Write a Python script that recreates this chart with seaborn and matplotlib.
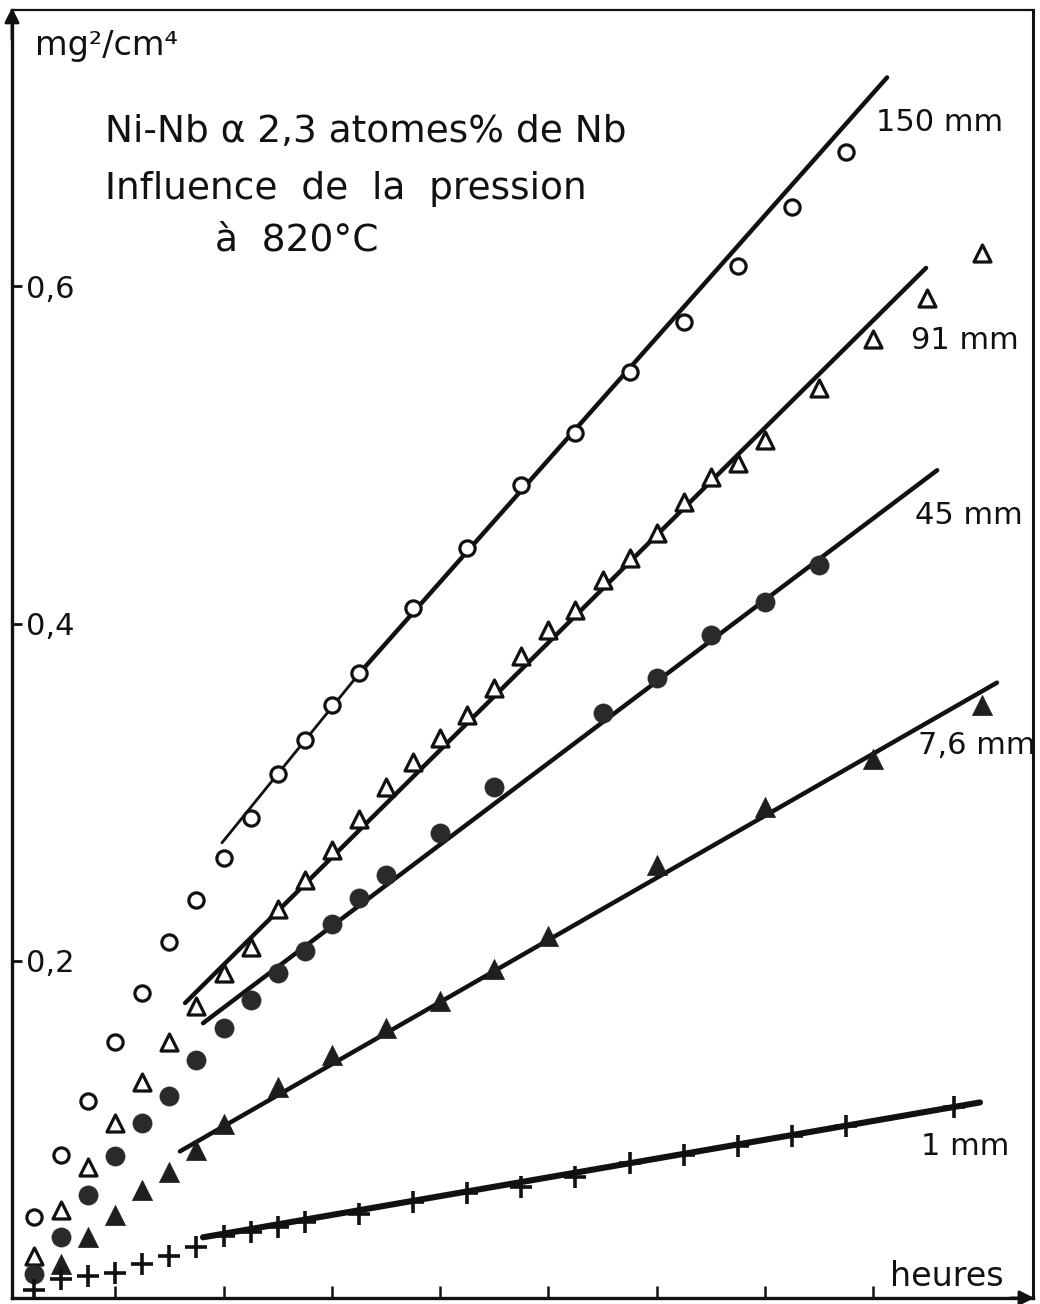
import matplotlib
matplotlib.use("Agg")
import matplotlib.pyplot as plt
import seaborn as sns

# Ni-Nb alloy (2.3 at.% Nb) oxidised at 820 °C:
# squared mass gain (mg²/cm⁴) against time (hours) for five oxygen pressures.

hours_150 = [1, 2, 3, 4, 5, 6, 7, 8, 9, 10, 11, 12, 13, 15, 17, 19, 21, 23, 25, 27, 29, 31]
gain_150 = [0.048, 0.085, 0.117, 0.152, 0.181, 0.211, 0.236, 0.261, 0.285, 0.311, 0.331,
            0.352, 0.371, 0.409, 0.445, 0.482, 0.513, 0.549, 0.579, 0.612, 0.647, 0.680]

hours_91 = [1, 2, 3, 4, 5, 6, 7, 8, 9, 10, 11, 12, 13, 14, 15, 16, 17, 18, 19, 20,
            21, 22, 23, 24, 25, 26, 27, 28, 30, 32, 34, 36]
gain_91 = [0.025, 0.052, 0.078, 0.104, 0.128, 0.152, 0.173, 0.193, 0.208, 0.231, 0.248,
           0.266, 0.284, 0.303, 0.318, 0.332, 0.346, 0.362, 0.381, 0.396, 0.408, 0.426,
           0.439, 0.454, 0.472, 0.487, 0.495, 0.509, 0.540, 0.569, 0.593, 0.620]

hours_45 = [1, 2, 3, 4, 5, 6, 7, 8, 9, 10, 11, 12, 13, 14, 16, 18, 22, 24, 26, 28, 30]
gain_45 = [0.014, 0.036, 0.061, 0.084, 0.104, 0.120, 0.141, 0.160, 0.177, 0.193, 0.206,
           0.222, 0.237, 0.251, 0.276, 0.303, 0.347, 0.368, 0.393, 0.413, 0.435]

hours_7_6 = [2, 3, 4, 5, 6, 7, 8, 10, 12, 14, 16, 18, 20, 24, 28, 32, 36]
gain_7_6 = [0.020, 0.036, 0.049, 0.064, 0.075, 0.088, 0.103, 0.125, 0.144, 0.160, 0.176,
            0.195, 0.215, 0.257, 0.291, 0.320, 0.352]

hours_1 = [1, 2, 3, 4, 5, 6, 7, 8, 9, 10, 11, 13, 15, 17, 19, 21, 23, 25, 27, 29, 31, 35]
gain_1 = [0.005, 0.011, 0.013, 0.015, 0.020, 0.025, 0.030, 0.037, 0.039, 0.042, 0.045,
          0.050, 0.057, 0.062, 0.066, 0.072, 0.080, 0.085, 0.090, 0.096, 0.102, 0.113]

# hand-fitted straight lines (parabolic regime)
fit_150_a_h, fit_150_a_g = [7.94, 13.04], [0.270, 0.371]
fit_150_b_h, fit_150_b_g = [13.04, 32.51], [0.371, 0.724]
fit_91_h, fit_91_g = [6.58, 33.95], [0.175, 0.611]
fit_45_h, fit_45_g = [7.24, 34.36], [0.163, 0.491]
fit_7_6_h, fit_7_6_g = [6.39, 36.57], [0.087, 0.365]
fit_1_h, fit_1_g = [7.24, 35.94], [0.036, 0.116]

pressure_labels = ["150 mm", "91 mm", "45 mm", "7,6 mm", "1 mm"]
y_ticks = [0.2, 0.4, 0.6]
y_tick_labels = ["0,2", "0,4", "0,6"]
x_ticks = [4, 8, 12, 16, 20, 24, 28, 32]

sns.set_theme(style="white")
plt.rcParams["font.family"] = ["DejaVu Sans"]

INK = "#111111"

fig = plt.figure(figsize=(10.4, 13.04), dpi=100)
ax = fig.add_axes([12 / 1040, 6 / 1304, 1021 / 1040, 1288 / 1304])
ax.set_xlim(0.185, 37.9)
ax.set_ylim(0.0, 0.764)

# fitted lines
for h, g, lw in [(fit_150_a_h, fit_150_a_g, 2.0), (fit_150_b_h, fit_150_b_g, 3.2),
                 (fit_91_h, fit_91_g, 3.2), (fit_45_h, fit_45_g, 3.2),
                 (fit_7_6_h, fit_7_6_g, 3.2), (fit_1_h, fit_1_g, 4.4)]:
    sns.lineplot(x=h, y=g, color=INK, lw=lw, estimator=None, ax=ax,
                 solid_capstyle="round")

# measured points
sns.scatterplot(x=hours_150, y=gain_150, marker="o", s=120, color="white",
                edgecolor=INK, linewidth=2.3, ax=ax, zorder=3)
sns.scatterplot(x=hours_91, y=gain_91, marker="^", s=150, color="white",
                edgecolor=INK, linewidth=2.3, ax=ax, zorder=3)
sns.scatterplot(x=hours_45, y=gain_45, marker="o", s=190, color="#2a2a2a",
                edgecolor="#2a2a2a", linewidth=0.5, ax=ax, zorder=3)
sns.scatterplot(x=hours_7_6, y=gain_7_6, marker="^", s=210, color="#1e1e1e",
                edgecolor="#1e1e1e", linewidth=0.5, ax=ax, zorder=3)
sns.scatterplot(x=hours_1, y=gain_1, marker="+", s=260, color=INK,
                linewidth=2.6, ax=ax, zorder=3)

# pressure labels at line ends
label_pos = [(32.1, 0.6975), (33.4, 0.568), (33.55, 0.4644), (33.65, 0.328), (33.75, 0.0896)]
for txt, (x, y) in zip(pressure_labels, label_pos):
    ax.text(x, y, txt, fontsize=22, color=INK, ha="left", va="center", clip_on=False)

# titles
ax.text(1.05, 0.743, "mg²/cm⁴", fontsize=24, color=INK, ha="left", va="center")
ax.text(3.62, 0.6916, "Ni-Nb α 2,3 atomes% de Nb", fontsize=27, color=INK,
        ha="left", va="center")
ax.text(3.62, 0.6578, "Influence  de  la  pression", fontsize=27, color=INK,
        ha="left", va="center")
ax.text(7.68, 0.6275, "à  820°C", fontsize=27, color=INK, ha="left", va="center")
ax.text(32.6, 0.0125, "heures", fontsize=24, color=INK, ha="left", va="center")

# axes, ticks and frame
ax.set_xlabel("")
ax.set_ylabel("")
ax.set_yticks(y_ticks)
ax.set_yticklabels(y_tick_labels)
ax.set_xticks(x_ticks)
ax.set_xticklabels([])
ax.tick_params(axis="y", direction="in", length=7, width=2.0, color=INK,
               labelsize=22, labelcolor=INK, pad=-10, left=True)
for lab in ax.get_yticklabels():
    lab.set_horizontalalignment("left")
ax.tick_params(axis="x", direction="in", length=9, width=1.8, color=INK, bottom=True)

for side, lw in [("left", 2.4), ("bottom", 2.4), ("top", 1.6), ("right", 2.2)]:
    ax.spines[side].set_visible(True)
    ax.spines[side].set_color(INK)
    ax.spines[side].set_linewidth(lw)

ax.annotate("", xy=(0.0, 1.004), xytext=(0.0, 0.975), xycoords="axes fraction",
            arrowprops=dict(arrowstyle="-|>", color=INK, lw=2, mutation_scale=22))
ax.annotate("", xy=(1.004, 0.0), xytext=(0.975, 0.0), xycoords="axes fraction",
            arrowprops=dict(arrowstyle="-|>", color=INK, lw=2, mutation_scale=22))

fig.savefig("out.png", dpi=100, facecolor="white")
